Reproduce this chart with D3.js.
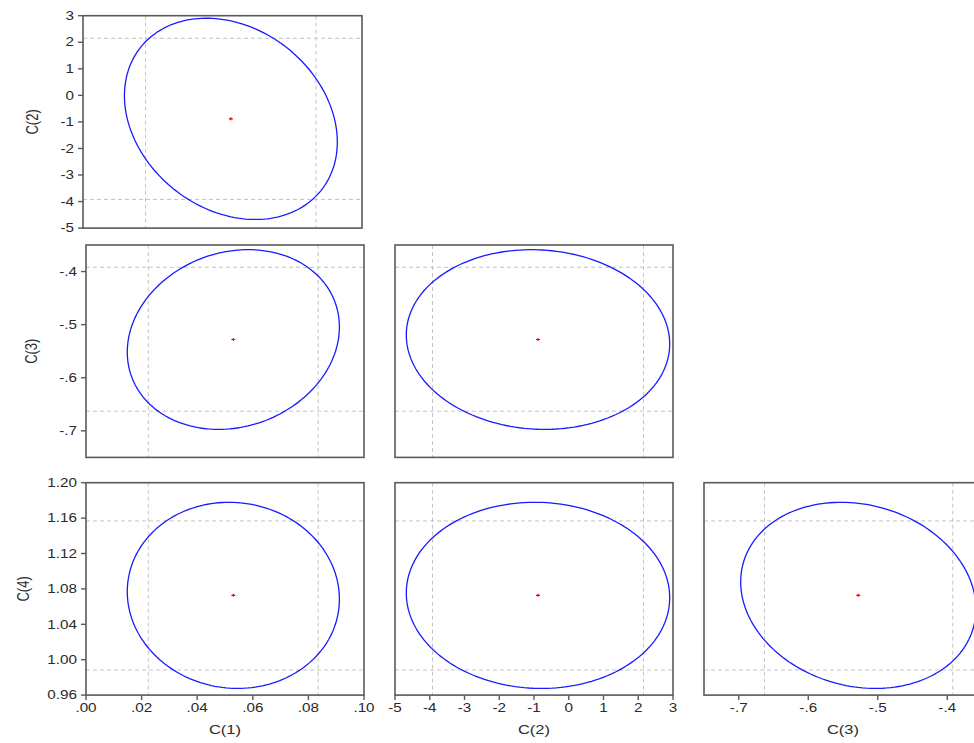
<!DOCTYPE html>
<html lang="en">
<head>
<meta charset="UTF-8">
<title>Confidence Ellipses</title>
<script src="https://d3js.org/d3.v7.min.js"></script>
<style>
    body { margin: 0; background: #fff; }
    svg { display: block; }
    .tick_label { font-family: "Liberation Sans", Arial, sans-serif; font-size: 12px; fill: #2a2a2a; }
    .axis_title { font-family: "Liberation Sans", Arial, sans-serif; font-size: 13px; fill: #2a2a2a; }
</style>
</head>
<body>
<svg width="974" height="743"></svg>

<script>
    // coefficient estimates and individual 95% intervals (dashed lines)
    const coefNames = ["C(1)", "C(2)", "C(3)", "C(4)"];
    const estimates = [0.0530, -0.885, -0.528, 1.0727];
    const ciLower = [0.0224, -3.92, -0.663, 0.9884];
    const ciUpper = [0.0835, 2.15, -0.392, 1.1568];

    // [x coef, y coef] for each panel, and the correlation of the two estimates
    const pairs = [[0, 1], [0, 2], [1, 2], [0, 3], [1, 3], [2, 3]];
    const correlations = [-0.23, 0.14, -0.05, -0.04, -0.025, -0.145];

    const axisDomains = [[0, 0.10], [-5, 3], [-0.75, -0.35], [0.96, 1.20]];
    const tickValues = [
        [0, 0.02, 0.04, 0.06, 0.08, 0.10],
        [-5, -4, -3, -2, -1, 0, 1, 2, 3],
        [-0.7, -0.6, -0.5, -0.4],
        [0.96, 1.00, 1.04, 1.08, 1.12, 1.16, 1.20]
    ];
    const tickLabels = [
        [".00", ".02", ".04", ".06", ".08", ".10"],
        ["-5", "-4", "-3", "-2", "-1", "0", "1", "2", "3"],
        ["-.7", "-.6", "-.5", "-.4"],
        ["0.96", "1.00", "1.04", "1.08", "1.12", "1.16", "1.20"]
    ];

    const zCrit = 1.96;                 // individual interval
    const ellipseK = Math.sqrt(5.991);  // chi2(2) 95%

    // layout
    const colX = [86, 395, 704];
    const rowY = [15.7, 245, 482.7];
    const panelW = 278, panelH = 212.4;
    const stretch = 1.27;   // the picture is wider than tall

    let svg = d3.select("svg");
    let defs = svg.append("defs");

    function panelBox(col, row) {
        let x = colX[col], w = panelW;
        if (row === 0 && col === 0) { x = 83; w = 279; }
        return {x: x, y: rowY[row], w: w, h: panelH};
    }

    function addText(g, cls, x, y, str, anchor, rot) {
        g.append("text")
            .attr("class", cls)
            .attr("transform", "translate(" + x + "," + y + ") scale(" + stretch + ",1)" + (rot ? " rotate(-90)" : ""))
            .attr("text-anchor", anchor)
            .attr("dy", "0.35em")
            .text(str);
    }

    pairs.forEach(function (p, i) {
        let xi = p[0], yi = p[1];
        let col = xi, row = yi - 1;
        let b = panelBox(col, row);

        let x = d3.scaleLinear().domain(axisDomains[xi]).range([b.x, b.x + b.w]);
        let y = d3.scaleLinear().domain(axisDomains[yi]).range([b.y + b.h, b.y]);

        let g = svg.append("g").attr("class", "panel");

        defs.append("clipPath").attr("id", "clip" + i)
            .append("rect").attr("x", b.x).attr("y", b.y).attr("width", b.w).attr("height", b.h);

        let inner = g.append("g").attr("clip-path", "url(#clip" + i + ")");

        // dashed individual intervals
        [ciLower[xi], ciUpper[xi]].forEach(function (v) {
            inner.append("line")
                .attr("x1", x(v)).attr("x2", x(v))
                .attr("y1", b.y).attr("y2", b.y + b.h)
                .attr("stroke", "#c4c4c4").attr("stroke-dasharray", "4,3");
        });
        [ciLower[yi], ciUpper[yi]].forEach(function (v) {
            inner.append("line")
                .attr("x1", b.x).attr("x2", b.x + b.w)
                .attr("y1", y(v)).attr("y2", y(v))
                .attr("stroke", "#c4c4c4").attr("stroke-dasharray", "4,3");
        });

        // joint confidence ellipse
        let sx = (ciUpper[xi] - ciLower[xi]) / 2 / zCrit;
        let sy = (ciUpper[yi] - ciLower[yi]) / 2 / zCrit;
        let rho = correlations[i];
        let pts = d3.range(0, 2 * Math.PI, Math.PI / 90).map(function (t) {
            return [
                estimates[xi] + ellipseK * sx * Math.cos(t),
                estimates[yi] + ellipseK * sy * (rho * Math.cos(t) + Math.sqrt(1 - rho * rho) * Math.sin(t))
            ];
        });
        let line = d3.line().x(d => x(d[0])).y(d => y(d[1])).curve(d3.curveLinearClosed);
        inner.append("path")
            .attr("d", line(pts))
            .attr("fill", "none")
            .attr("stroke", "#1a1aff")
            .attr("stroke-width", 1.3);

        // point estimate
        let cx = x(estimates[xi]), cy = y(estimates[yi]);
        inner.append("path")
            .attr("d", "M" + (cx - 2) + "," + cy + "H" + (cx + 2) + "M" + cx + "," + (cy - 1.5) + "V" + (cy + 1.5))
            .attr("stroke", "#ff0000").attr("stroke-width", 1.2);

        // frame
        g.append("rect")
            .attr("x", b.x).attr("y", b.y).attr("width", b.w).attr("height", b.h)
            .attr("fill", "none").attr("stroke", "#5a5a5a").attr("stroke-width", 1.6);

        // left axis
        if (col === 0) {
            tickValues[yi].forEach(function (v, k) {
                g.append("line")
                    .attr("x1", b.x - 5).attr("x2", b.x)
                    .attr("y1", y(v)).attr("y2", y(v))
                    .attr("stroke", "#5a5a5a").attr("stroke-width", 1.4);
                addText(g, "tick_label", b.x - 9, y(v), tickLabels[yi][k], "end", false);
            });
            let titleX = [32, 31, 23][row];
            addText(g, "axis_title", titleX, b.y + b.h / 2, coefNames[yi], "middle", true);
        }

        // bottom axis
        if (row === 2) {
            tickValues[xi].forEach(function (v, k) {
                g.append("line")
                    .attr("x1", x(v)).attr("x2", x(v))
                    .attr("y1", b.y + b.h).attr("y2", b.y + b.h + 5)
                    .attr("stroke", "#5a5a5a").attr("stroke-width", 1.4);
                addText(g, "tick_label", x(v), b.y + b.h + 13, tickLabels[xi][k], "middle", false);
            });
            addText(g, "axis_title", b.x + b.w / 2, b.y + b.h + 34, coefNames[xi], "middle", false);
        }
    });
</script>
</body>
</html>
